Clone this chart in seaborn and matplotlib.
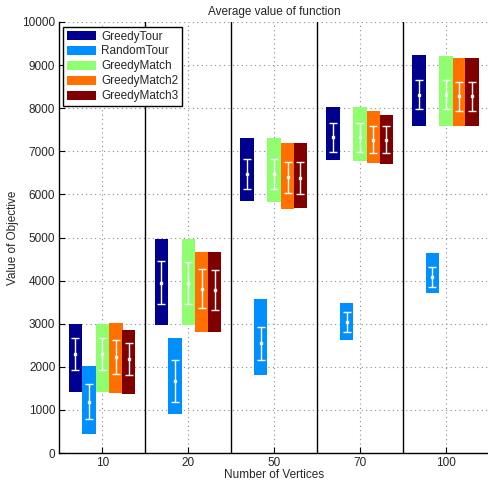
#floating bars (min to max) with mean +- std error bars for each algorithm
import numpy as np
import pandas as pd
import matplotlib
matplotlib.use('Agg')
import matplotlib.pyplot as plt
import seaborn as sns

#data
vertices = ['10', '20', '50', '70', '100']
algorithms = ['GreedyTour', 'RandomTour', 'GreedyMatch', 'GreedyMatch2', 'GreedyMatch3']

greedytour_min = [1420, 2980, 5850, 6800, 7590]
greedytour_max = [3000, 4960, 7310, 8030, 9230]
greedytour_mean = [2300, 3950, 6480, 7330, 8310]
greedytour_std = [375, 495, 352, 336, 337]

randomtour_min = [450, 910, 1820, 2630, 3720]
randomtour_max = [2020, 2670, 3570, 3480, 4640]
randomtour_mean = [1190, 1670, 2545, 3050, 4095]
randomtour_std = [406, 484, 390, 232, 232]

greedymatch_min = [1420, 2980, 5830, 6775, 7590]
greedymatch_max = [2990, 4960, 7310, 8030, 9210]
greedymatch_mean = [2300, 3940, 6480, 7330, 8310]
greedymatch_std = [375, 485, 352, 336, 337]

greedymatch2_min = [1400, 2815, 5670, 6736, 7590]
greedymatch2_max = [3010, 4665, 7195, 7935, 9165]
greedymatch2_mean = [2230, 3815, 6400, 7270, 8280]
greedymatch2_std = [395, 456, 356, 320, 336]

greedymatch3_min = [1377, 2815, 5684, 6705, 7590]
greedymatch3_max = [2854, 4665, 7195, 7842, 9165]
greedymatch3_mean = [2180, 3785, 6385, 7265, 8280]
greedymatch3_std = [379, 467, 367, 313, 336]

#long table, one row per bar
rows = []
series = [
    (greedytour_min, greedytour_max, greedytour_mean, greedytour_std),
    (randomtour_min, randomtour_max, randomtour_mean, randomtour_std),
    (greedymatch_min, greedymatch_max, greedymatch_mean, greedymatch_std),
    (greedymatch2_min, greedymatch2_max, greedymatch2_mean, greedymatch2_std),
    (greedymatch3_min, greedymatch3_max, greedymatch3_mean, greedymatch3_std),
]
for name, (lo, hi, mu, sd) in zip(algorithms, series):
    for i, v in enumerate(vertices):
        rows.append({'algorithm': name, 'vertices': v, 'group': i + 1,
                     'min': lo[i], 'max': hi[i], 'mean': mu[i], 'std': sd[i]})
df = pd.DataFrame(rows)

colormap = {'GreedyTour': '#00008F', 'RandomTour': '#008FFF', 'GreedyMatch': '#8FFF70',
            'GreedyMatch2': '#FF7000', 'GreedyMatch3': '#800000'}
offsets = {'GreedyTour': -0.315, 'RandomTour': -0.158, 'GreedyMatch': 0.0,
           'GreedyMatch2': 0.155, 'GreedyMatch3': 0.305}
bar_width = 0.158

sns.set_style('white')
plt.rcParams['font.family'] = ['Liberation Sans', 'DejaVu Sans']
plt.rcParams['font.size'] = 8.5

fig = plt.figure(figsize=(4.89, 4.83), dpi=100)
ax = fig.add_axes([59.5 / 489, 1 - 453 / 483, 1 - 59.5 / 489, 431 / 483])

for name in algorithms:
    d = df[df['algorithm'] == name]
    x = d['group'] + offsets[name]
    ax.bar(x, d['max'] - d['min'], bottom=d['min'], width=bar_width,
           color=colormap[name], linewidth=0, label=name, zorder=2)
    ax.errorbar(x, d['mean'], yerr=d['std'], fmt='s', ms=1.6, color='white',
                ecolor='white', elinewidth=1, capsize=3, capthick=1, zorder=3)

#separators between the vertex groups
for xs in [1.5, 2.5, 3.5, 4.5]:
    ax.axvline(xs, color='black', linewidth=1, zorder=4)

ax.set_xlim(0.5, 5.5)
ax.set_ylim(0, 10000)
ax.set_xticks(range(1, 6))
ax.set_xticklabels(vertices)
ax.set_yticks(range(0, 10001, 1000))

ax.grid(True, linestyle=(0, (1, 3)), color='#8c8c8c', linewidth=0.8)
ax.set_axisbelow(True)
ax.tick_params(direction='in', length=4, width=0.8, color='black', labelsize=8.5,
               top=False, right=False, bottom=True, left=True, pad=3)
for side in ['top', 'right']:
    ax.spines[side].set_visible(False)
for side in ['left', 'bottom']:
    ax.spines[side].set_color('black')
    ax.spines[side].set_linewidth(1)

ax.set_title('Average value of function', fontsize=8.5, pad=5)
ax.set_xlabel('Number of Vertices', fontsize=8.5, labelpad=0)
ax.set_ylabel('Value of Objective', fontsize=8.5, labelpad=2)

leg = ax.legend(loc='upper left', bbox_to_anchor=(3.5 / 429.5, 1 - 5 / 431),
                borderaxespad=0, fancybox=False, framealpha=1, edgecolor='black',
                handlelength=2.5, handleheight=0.85, handletextpad=0.45,
                labelspacing=0.25, borderpad=0.3, fontsize=8.5)
leg.get_frame().set_linewidth(1)
leg.set_zorder(5)

fig.savefig('out.png', dpi=100)
